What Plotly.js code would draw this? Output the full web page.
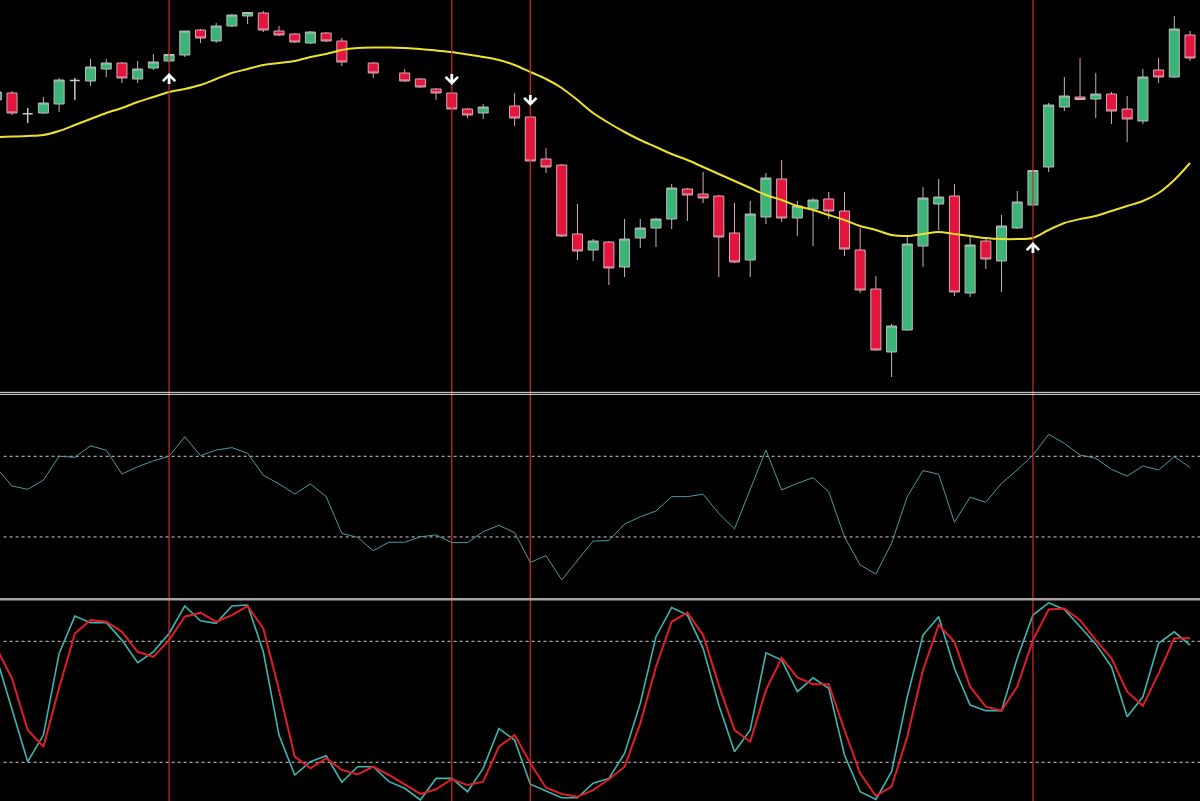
<!DOCTYPE html>
<html>
<head>
<meta charset="utf-8">
<script src="https://cdn.plot.ly/plotly-3.0.1.min.js"></script>
<style>html,body{margin:0;padding:0;background:#000;}#chart{width:1200px;height:801px;}</style>
</head>
<body>
<div id="chart"></div>
<script>
// ---- price candles (bar index, open, high, low, close) ----
const barIndex = [-1,0,1,2,3,4,5,6,7,8,9,10,11,12,13,14,15,16,17,18,19,20,21,23,25,26,27,28,29,30,32,33,34,35,36,37,38,39,40,41,42,43,44,45,46,47,48,49,50,51,52,53,54,55,56,57,58,59,60,61,62,63,64,65,66,67,68,69,70,71,72,73,74,75];
const openP  = [300,307,286.3,287,296,319.5,319,331,337,321,332,339,345,370,359,374,384,387,369,366,357,367,359,337,327,321,311,307,291,287,294,283,241,235,166,150,158,133,162,172,181,211,206,204,167,140,183,221,182,191,201,189,150,111,48,70,154,196,204,107,159,139,172,195,233,293,303,301,306,291,279,330,323,365];
const highP  = [310,309,292,303,322,322,341,341,338,339,346,346,369,371,377,386,388,389,374,367,369,368,362,338,331,322,312,308,292,296,307,284,252,236,196,161,159,181,181,182,216,212,228,205,197,199,227,240,199,202,208,208,172,124,76,164,213,221,216,164,162,185,209,230,297,323,342,327,308,304,331,342,384,369];
const lowP   = [298,285,277,286,288,300,314,323,317,317,330,338,343,357,357,373,376,368,364,357,356,358,334,322,318,312,300,291,282,281,274,239,227,163,140,139,115,123,152,153,171,179,197,123,137,123,176,178,164,154,181,144,107,49,23,69,133,170,104,103,131,108,171,194,228,289,300,282,276,258,276,317,322,339];
const closeP = [308,287,286.3,297,320,319.5,333,337,322,331,338,345.5,369,362,374,385,387.5,370,365,358,368,359,338,327,319,313,307,291,285,293,282,239,233,164,149,159,132,161,172,181,212,205,202,163,138,186,222,182,194,200,189,151,110,50,74,156,202,203,108,155,141,174,198,229.5,295,304,300.5,306,289,281,323,323,371,342];

// ---- moving average (one value per bar index, from -1 to 75) ----
const lineIndex = [];
for (let i = -1; i <= 75; i++) lineIndex.push(i);
const maValues = [263,263.5,264,265,269,275,281,287,292,298,303,308,311,315,321,327,331,335,337,339,343,346,350,352,352.5,352.5,352,351,349.5,348,345.5,343,340,335,328,321,312,300,287,277,268,260,253,246,240,233,226,219,212,205,200,194,190,185,180,174,170,165,164,166,168,166,164,162,161,161,162,170,177,181,184,189,194,199,207,220,237];

// ---- RSI (index -1 .. 75) ----
const rsiValues = [64.3,55.3,53.6,58.2,70.0,69.5,75.2,73.0,61.2,64.8,67.7,70.0,79.7,70.3,73.1,74.3,71.5,60.6,56.3,51.3,56.3,50.0,31.8,29.8,23.2,27.4,27.4,30.1,31.0,27.2,27.2,32.6,35.8,32.1,17.4,20.7,8.7,18.6,28.0,28.2,36.4,40.0,42.9,50.0,50.0,51.2,41.7,34.0,53.5,73.1,53.3,56.6,59.4,52.4,30.1,16.1,11.6,26.9,50.0,62.9,61.1,37.3,49.7,47.2,56.6,63.2,70.6,80.9,76.4,70.6,69.0,63.5,60.2,65.2,63.2,69.8,64.5];
const rsiLevels = [70, 30];

// ---- Stochastic %K and %D (index -1 .. 75) ----
const stochK = [72.2,45.8,20.3,33.5,74.0,92.5,89.2,89.4,80.6,69.4,74.8,83.9,97.5,90.2,88.9,97.5,98.0,74.8,33.5,13.7,20.3,23.3,10.1,17.8,17.8,10.4,7.1,1.3,12.0,12.0,5.4,17.0,36.8,31.0,9.1,5.8,2.4,2.4,9.6,12.0,24.4,49.2,82.3,96.8,93.0,76.5,48.4,25.2,36.0,74.3,70.7,55.0,61.9,56.7,23.6,5.4,1.6,15.3,52.5,83.1,92.2,66.6,48.4,45.6,45.6,71.6,93.0,99.1,95.8,87.2,78.6,67.4,42.6,52.5,79.0,84.7,78.1];
const stochD = [77.0,61.6,36.0,27.7,56.8,83.9,90.5,89.7,84.7,74.8,72.3,80.6,92.2,94.2,89.7,93.0,97.5,86.4,55.8,22.8,17.0,22.0,16.2,14.0,17.8,13.7,9.1,4.3,6.6,11.6,8.7,10.4,27.7,33.5,19.5,7.4,4.3,2.9,6.2,11.6,17.8,39.3,67.4,89.7,94.2,83.1,58.3,36.0,30.2,55.8,71.8,62.1,58.7,58.7,36.0,14.5,3.3,7.9,32.7,65.8,88.1,79.8,57.5,47.6,45.6,57.5,80.6,95.8,96.3,90.5,80.6,71.6,55.0,48.0,64.1,81.5,81.5];
const stochLevels = [80, 20];

// ---- signals ----
const signalIndex = [10, 28, 33, 65];
const signalDir   = ['up', 'down', 'down', 'up'];
const signalLevel = [327, 315, 294, 158];

// ---------------------------------------------------------------
const normal = {x:[],open:[],high:[],low:[],close:[]};
const doji = {x:[],open:[],high:[],low:[],close:[]};
barIndex.forEach((b, k) => {
  const tgt = openP[k] === closeP[k] ? doji : normal;
  tgt.x.push(b); tgt.open.push(openP[k]); tgt.high.push(highP[k]);
  tgt.low.push(lowP[k]); tgt.close.push(closeP[k]);
});

const traces = [
  {type:'scatter', mode:'lines', x:lineIndex, y:maValues, xaxis:'x', yaxis:'y',
   line:{color:'#ece22a', width:2, shape:'spline', smoothing:0.8}, hoverinfo:'skip'},
  Object.assign({type:'candlestick', xaxis:'x', yaxis:'y', whiskerwidth:0,
   increasing:{line:{color:'#b9b9b9', width:1}, fillcolor:'#3cb478'},
   decreasing:{line:{color:'#d7aab4', width:1}, fillcolor:'#e2153f'}, hoverinfo:'skip'}, normal),
  Object.assign({type:'candlestick', xaxis:'x', yaxis:'y', whiskerwidth:0,
   increasing:{line:{color:'#c8c8c8', width:1.5}, fillcolor:'#c8c8c8'},
   decreasing:{line:{color:'#c8c8c8', width:1.5}, fillcolor:'#c8c8c8'}, hoverinfo:'skip'}, doji),
  {type:'scatter', mode:'lines', x:lineIndex, y:rsiValues, xaxis:'x', yaxis:'y2',
   line:{color:'#4f9a98', width:1}, hoverinfo:'skip'},
  {type:'scatter', mode:'lines', x:lineIndex, y:stochK, xaxis:'x', yaxis:'y3',
   line:{color:'#3fb6ae', width:1.6}, hoverinfo:'skip'},
  {type:'scatter', mode:'lines', x:lineIndex, y:stochD, xaxis:'x', yaxis:'y3',
   line:{color:'#e01e28', width:2}, hoverinfo:'skip'}
];

const shapes = [];
signalIndex.forEach(i => shapes.push({type:'line', xref:'x', yref:'paper', x0:i, x1:i, y0:0, y1:1,
  line:{color:'#d42a2a', width:1.2}, layer:'above'}));
rsiLevels.forEach(v => shapes.push({type:'line', xref:'paper', yref:'y2', x0:0.003, x1:1, y0:v, y1:v,
  line:{color:'#cfcfcf', width:1, dash:'3px,3px'}, layer:'below'}));
stochLevels.forEach(v => shapes.push({type:'line', xref:'paper', yref:'y3', x0:0.003, x1:1, y0:v, y1:v,
  line:{color:'#cfcfcf', width:1, dash:'3px,3px'}, layer:'below'}));
// panel separators
shapes.push({type:'line', xref:'paper', yref:'paper', x0:0, x1:1, y0:0.5102, y1:0.5102, line:{color:'#e8e8e8', width:1}, layer:'above'});
shapes.push({type:'line', xref:'paper', yref:'paper', x0:0, x1:1, y0:0.5077, y1:0.5077, line:{color:'#e8e8e8', width:1}, layer:'above'});
shapes.push({type:'line', xref:'paper', yref:'paper', x0:0, x1:1, y0:0.2518, y1:0.2518, line:{color:'#a4a4a4', width:2.5}, layer:'above'});

const annotations = signalIndex.map((i, k) => ({
  xref:'x', yref:'y', x:i, y:signalLevel[k], text:' ', font:{size:1}, borderpad:0, showarrow:true,
  ax:0, ay: signalDir[k] === 'up' ? 12 : -12,
  arrowhead:4, arrowsize:0.85, arrowwidth:2.8, arrowcolor:'#ffffff', standoff:0, startstandoff:0
}));

const hidden = {visible:false, showgrid:false, zeroline:false, fixedrange:true};
const layout = {
  width:1200, height:801, margin:{l:0, r:0, t:0, b:0},
  paper_bgcolor:'#000000', plot_bgcolor:'#000000', showlegend:false,
  boxgap:0.36, boxgroupgap:0,
  xaxis:Object.assign({range:[-0.764, 75.636], anchor:'y3', rangeslider:{visible:false}}, hidden),
  yaxis:Object.assign({domain:[0.5106, 1], range:[8, 400]}, hidden),
  yaxis2:Object.assign({domain:[0.2541, 0.5059], range:[0, 100]}, hidden),
  yaxis3:Object.assign({domain:[0, 0.2497], range:[0.8, 100]}, hidden),
  shapes:shapes, annotations:annotations
};
Plotly.newPlot('chart', traces, layout, {staticPlot:true, displayModeBar:false});
</script>
</body>
</html>
